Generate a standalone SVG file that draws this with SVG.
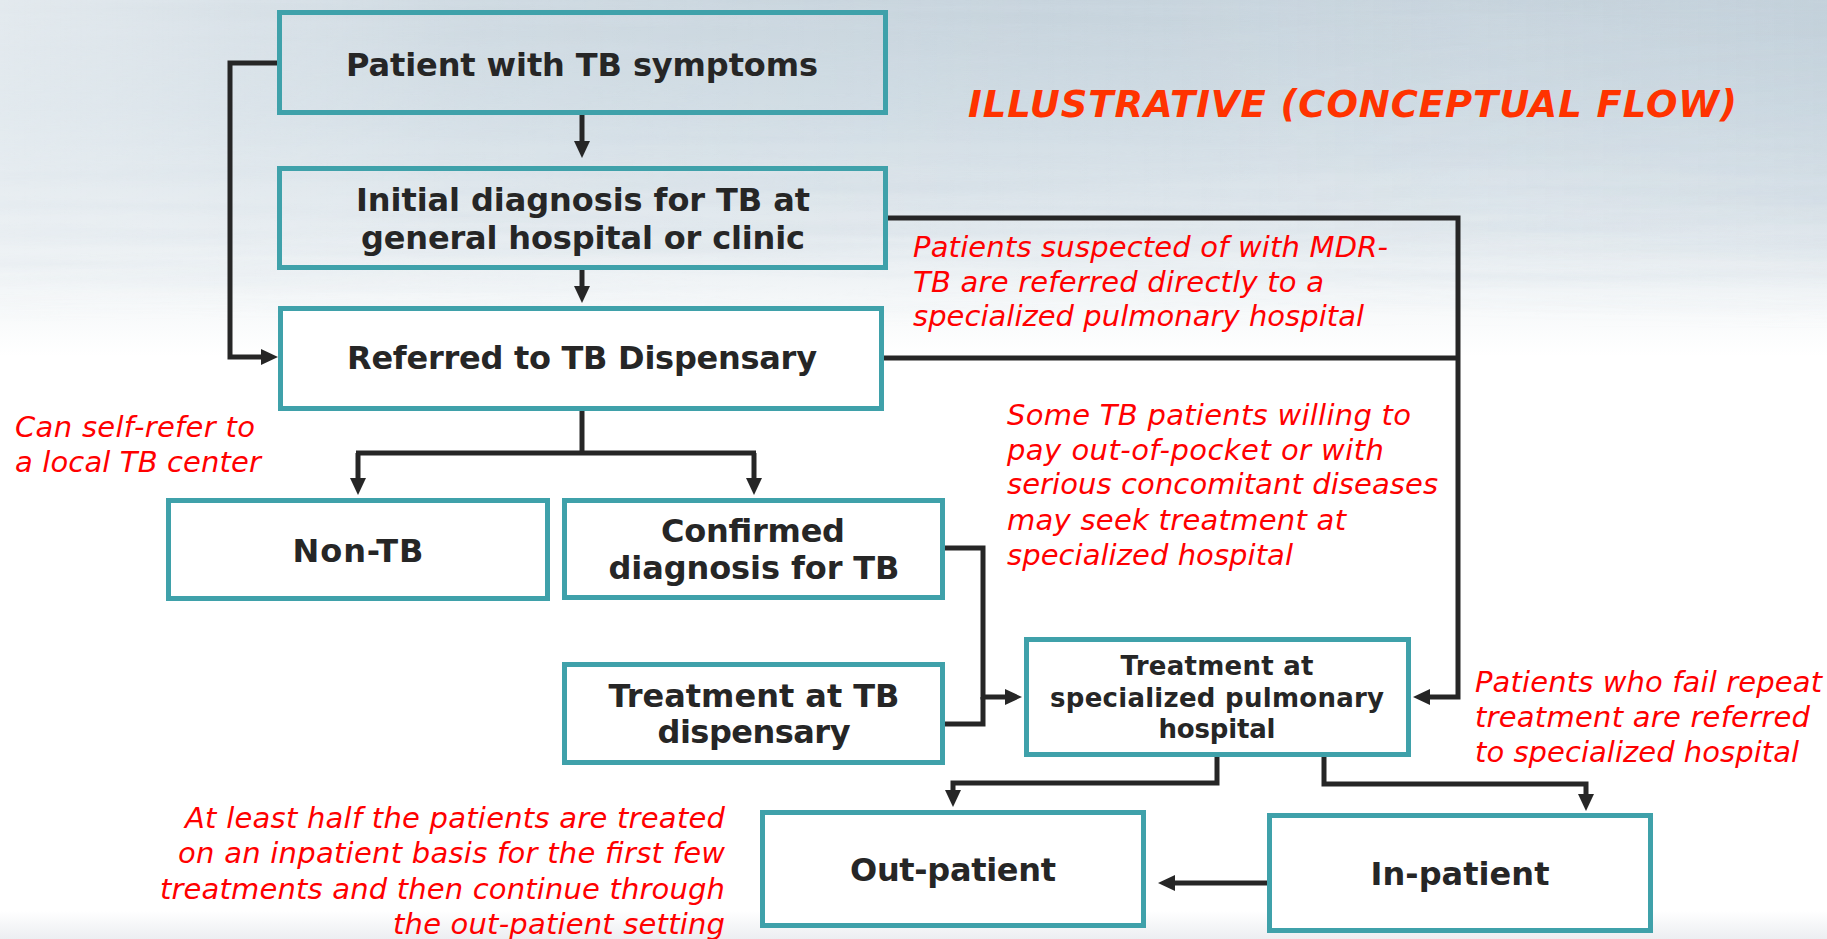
<svg xmlns="http://www.w3.org/2000/svg" width="1827" height="939" viewBox="0 0 1827 939">
  <defs>
    <style>
      .box { fill: #ffffff; stroke: #3fa1aa; stroke-width: 5; }
      .box.clear { fill: none; }
      .lbl { font-family: "DejaVu Sans", Verdana, sans-serif; font-weight: bold; font-size: 32px; fill: #262626; text-anchor: middle; }
      .lbl.sm { font-size: 26px; }
      .note { font-family: "DejaVu Sans", Verdana, sans-serif; font-style: italic; font-size: 29px; fill: #ff0000; }
      .note.r { text-anchor: end; }
      .title { font-family: "DejaVu Sans", Verdana, sans-serif; font-style: italic; font-weight: bold; font-size: 37px; fill: #ff3300; }
      .wire { fill: none; stroke: #262626; stroke-width: 5; stroke-linejoin: miter; }
      .arrow { marker-end: url(#head); }
    </style>
    <marker id="head" viewBox="0 0 17 16" refX="7" refY="8" markerWidth="17" markerHeight="16" markerUnits="userSpaceOnUse" orient="auto">
      <path d="M0,0 L17,8 L0,16 z" fill="#262626"/>
    </marker>
    <linearGradient id="sky" x1="0" y1="0" x2="0" y2="1">
      <stop offset="0" stop-color="#c6d3dc"/>
      <stop offset="0.12" stop-color="#d0dce4"/>
      <stop offset="0.24" stop-color="#e2e9ee"/>
      <stop offset="0.33" stop-color="#f7f9fa"/>
      <stop offset="0.38" stop-color="#ffffff"/>
      <stop offset="0.97" stop-color="#ffffff"/>
      <stop offset="1" stop-color="#eceef1"/>
    </linearGradient>
    <linearGradient id="sideLight" x1="0" y1="0" x2="1" y2="0">
      <stop offset="0" stop-color="#ffffff" stop-opacity="0.5"/>
      <stop offset="0.25" stop-color="#ffffff" stop-opacity="0.15"/>
      <stop offset="0.6" stop-color="#ffffff" stop-opacity="0"/>
      <stop offset="1" stop-color="#a9bccb" stop-opacity="0.15"/>
    </linearGradient>
    <linearGradient id="fadeDown" x1="0" y1="0" x2="0" y2="1">
      <stop offset="0" stop-color="#fff" stop-opacity="1"/>
      <stop offset="0.7" stop-color="#fff" stop-opacity="0.6"/>
      <stop offset="1" stop-color="#fff" stop-opacity="0"/>
    </linearGradient>
    <mask id="topMask" maskUnits="userSpaceOnUse" x="0" y="0" width="1827" height="330">
      <rect x="0" y="0" width="1827" height="330" fill="url(#fadeDown)"/>
    </mask>
    <filter id="streaks" x="0" y="0" width="100%" height="100%" filterUnits="objectBoundingBox">
      <feTurbulence type="fractalNoise" baseFrequency="0.0018 0.07" numOctaves="3" seed="7"/>
      <feColorMatrix type="matrix" values="0 0 0 0 0.62  0 0 0 0 0.70  0 0 0 0 0.77  1.6 0 0 0 -0.55"/>
    </filter>
  </defs>

  <!-- background -->
  <rect x="0" y="0" width="1827" height="939" fill="url(#sky)"/>
  <rect x="0" y="0" width="1827" height="330" filter="url(#streaks)" mask="url(#topMask)" opacity="0.7"/>
  <rect x="0" y="0" width="1827" height="330" fill="url(#sideLight)" mask="url(#topMask)"/>

  <!-- connectors -->
  <g id="connectors">
    <path class="wire arrow" d="M582,115 V148"/>
    <path class="wire arrow" d="M582,270 V293"/>
    <path class="wire arrow" d="M277,63 H230 V357 H268"/>
    <path class="wire" d="M582,411 V453"/>
    <path class="wire" d="M356,453 H756"/>
    <path class="wire arrow" d="M358,453 V485"/>
    <path class="wire arrow" d="M754,453 V485"/>
    <path class="wire arrow" d="M888,218 H1458 V697 H1423"/>
    <path class="wire" d="M884,358 H1458"/>
    <path class="wire arrow" d="M945,548 H983 V697 H1012"/>
    <path class="wire" d="M939,724 H983 V697"/>
    <path class="wire arrow" d="M1217,757 V783 H953 V797"/>
    <path class="wire arrow" d="M1324,757 V784 H1586 V801"/>
    <path class="wire arrow" d="M1267,883 H1168"/>
  </g>

  <!-- nodes -->
  <g id="node-symptoms">
    <rect class="box clear" x="279.5" y="12.5" width="606" height="100"/>
    <text class="lbl" x="582" y="76" textLength="472" lengthAdjust="spacing">Patient with TB symptoms</text>
  </g>
  <g id="node-initial">
    <rect class="box clear" x="279.5" y="168.5" width="606" height="99"/>
    <text class="lbl" x="583" y="211" textLength="454" lengthAdjust="spacing">Initial diagnosis for TB at</text>
    <text class="lbl" x="583" y="249" textLength="444" lengthAdjust="spacing">general hospital or clinic</text>
  </g>
  <g id="node-dispensary">
    <rect class="box" x="280.5" y="308.5" width="601" height="100"/>
    <text class="lbl" x="582" y="369" textLength="470" lengthAdjust="spacing">Referred to TB Dispensary</text>
  </g>
  <g id="node-nontb">
    <rect class="box" x="168.5" y="500.5" width="379" height="98"/>
    <text class="lbl" x="358" y="562" textLength="131" lengthAdjust="spacing">Non-TB</text>
  </g>
  <g id="node-confirmed">
    <rect class="box" x="564.5" y="500.5" width="378" height="97"/>
    <text class="lbl" x="753" y="542" textLength="184" lengthAdjust="spacing">Confirmed</text>
    <text class="lbl" x="754" y="579" textLength="291" lengthAdjust="spacing">diagnosis for TB</text>
  </g>
  <g id="node-treat-dispensary">
    <rect class="box" x="564.5" y="664.5" width="378" height="98"/>
    <text class="lbl" x="754" y="707" textLength="291" lengthAdjust="spacing">Treatment at TB</text>
    <text class="lbl" x="754" y="743" textLength="193" lengthAdjust="spacing">dispensary</text>
  </g>
  <g id="node-specialized">
    <rect class="box" x="1026.5" y="639.5" width="382" height="115"/>
    <text class="lbl sm" x="1217" y="675" textLength="193" lengthAdjust="spacing">Treatment at</text>
    <text class="lbl sm" x="1217" y="707" textLength="334" lengthAdjust="spacing">specialized pulmonary</text>
    <text class="lbl sm" x="1217" y="738" textLength="117" lengthAdjust="spacing">hospital</text>
  </g>
  <g id="node-outpatient">
    <rect class="box" x="762.5" y="812.5" width="381" height="113"/>
    <text class="lbl" x="953" y="881" textLength="206" lengthAdjust="spacing">Out-patient</text>
  </g>
  <g id="node-inpatient">
    <rect class="box" x="1269.5" y="815.5" width="381" height="115"/>
    <text class="lbl" x="1460" y="885" textLength="179" lengthAdjust="spacing">In-patient</text>
  </g>

  <!-- annotations -->
  <g id="title">
    <text class="title" x="968" y="117" textLength="769" lengthAdjust="spacing">ILLUSTRATIVE (CONCEPTUAL FLOW)</text>
  </g>
  <g id="note-self-refer">
    <text class="note" x="15" y="437" textLength="240" lengthAdjust="spacing">Can self-refer to</text>
    <text class="note" x="15" y="472" textLength="246" lengthAdjust="spacing">a local TB center</text>
  </g>
  <g id="note-mdr">
    <text class="note" x="913" y="257" textLength="475" lengthAdjust="spacing">Patients suspected of with MDR-</text>
    <text class="note" x="913" y="292" textLength="411" lengthAdjust="spacing">TB are referred directly to a</text>
    <text class="note" x="913" y="326" textLength="451" lengthAdjust="spacing">specialized pulmonary hospital</text>
  </g>
  <g id="note-out-of-pocket">
    <text class="note" x="1007" y="425" textLength="404" lengthAdjust="spacing">Some TB patients willing to</text>
    <text class="note" x="1007" y="460" textLength="377" lengthAdjust="spacing">pay out-of-pocket or with</text>
    <text class="note" x="1007" y="494" textLength="431" lengthAdjust="spacing">serious concomitant diseases</text>
    <text class="note" x="1007" y="530" textLength="339" lengthAdjust="spacing">may seek treatment at</text>
    <text class="note" x="1007" y="565" textLength="286" lengthAdjust="spacing">specialized hospital</text>
  </g>
  <g id="note-repeat-failure">
    <text class="note" x="1475" y="692" textLength="347" lengthAdjust="spacing">Patients who fail repeat</text>
    <text class="note" x="1475" y="727" textLength="335" lengthAdjust="spacing">treatment are referred</text>
    <text class="note" x="1475" y="762" textLength="324" lengthAdjust="spacing">to specialized hospital</text>
  </g>
  <g id="note-inpatient-first">
    <text class="note r" x="725" y="828" textLength="540" lengthAdjust="spacing">At least half the patients are treated</text>
    <text class="note r" x="725" y="863" textLength="547" lengthAdjust="spacing">on an inpatient basis for the first few</text>
    <text class="note r" x="725" y="899" textLength="565" lengthAdjust="spacing">treatments and then continue through</text>
    <text class="note r" x="725" y="934" textLength="332" lengthAdjust="spacing">the out-patient setting</text>
  </g>
</svg>
